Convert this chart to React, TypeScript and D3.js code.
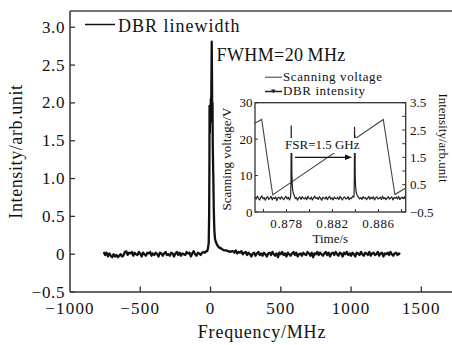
import React from "react";
import * as d3 from "d3";

// ---------- main spectrum data ----------
const mainXTicks = [-1000, -500, 0, 500, 1000, 1500];
const mainYTicks = [-0.5, 0, 0.5, 1.0, 1.5, 2.0, 2.5, 3.0];

const leftStartFreq = -760;
const freqStep = 10;
const leftNoise = [
  0.03, -0.01, 0.02, -0.03, 0.01, -0.02, -0.04, 0.0, -0.03, -0.01,
  -0.04, -0.02, 0.0, -0.03, -0.02, 0.03, 0.04, -0.01, 0.02, 0.01,
  0.03, -0.02, 0.02, 0.0, -0.01, 0.03, 0.01, -0.03, 0.02, 0.0,
  -0.02, 0.02, 0.01, 0.03, -0.02, 0.01, -0.01, 0.02, 0.0, -0.03,
  0.02, 0.01, -0.02, 0.01, 0.03, -0.01, 0.0, -0.02, 0.02, 0.01,
  -0.03, 0.01, 0.03, -0.01, 0.02, -0.02, 0.01, 0.0, -0.01, 0.03,
  0.01, 0.02, -0.03, 0.01, 0.04, 0.0, -0.02, 0.02, 0.01, -0.01,
  0.02, 0.03, 0.02, 0.04,
];

const peakFreq = [-24, -18, -13, -10, -8, -7, -5, -3, 0, 2, 4, 6, 8.5, 10.5, 12, 14, 16, 18, 20, 23, 27, 32, 38, 45, 51, 60, 70, 80, 95, 110, 125, 140, 150];
const peakVal = [0.04, 0.08, 0.15, 0.5, 1.2, 1.96, 1.6, 1.85, 1.75, 2.05, 1.85, 2.2, 2.81, 2.31, 1.8, 2.0, 1.42, 1.2, 1.0, 0.6, 0.32, 0.2, 0.16, 0.13, 0.11, 0.09, 0.08, 0.07, 0.05, 0.05, 0.04, 0.03, 0.04];

const rightStartFreq = 160;
const rightNoise = [
  0.04, 0.02, 0.05, 0.01, 0.03, 0.02, 0.04, 0.0, 0.02, 0.03,
  -0.01, 0.02, 0.0, -0.03, 0.01, 0.02, -0.02, 0.01, 0.03, -0.01,
  0.01, -0.02, 0.02, 0.0, -0.03, 0.01, 0.02, -0.01, 0.03, 0.0,
  -0.02, 0.01, -0.04, 0.02, 0.0, 0.03, -0.01, 0.01, -0.03, 0.02,
  0.0, -0.02, 0.01, 0.03, -0.01, 0.02, -0.03, 0.0, 0.01, -0.02,
  0.02, 0.0, -0.01, 0.03, 0.01, -0.02, 0.02, -0.04, 0.01, 0.0,
  0.03, -0.01, 0.02, 0.0, -0.02, 0.01, 0.03, -0.01, 0.02, -0.03,
  0.01, 0.02, -0.01, 0.03, 0.0, -0.02, 0.02, 0.01, -0.03, 0.02,
  0.0, 0.03, -0.01, 0.01, -0.02, 0.02, 0.0, -0.03, 0.02, 0.01,
  -0.01, 0.03, 0.0, -0.02, 0.02, 0.01, -0.01, 0.03, -0.02, 0.01,
  0.02, -0.01, 0.0, 0.03, -0.02, 0.01, 0.02, -0.03, 0.01, 0.0,
  0.02, -0.01, 0.03, 0.0, -0.02, 0.01, 0.02, -0.01, 0.01, 0.0,
];

// ---------- inset data ----------
const insetTimeTicks = [0.876, 0.878, 0.88, 0.882, 0.884, 0.886, 0.888];
const insetTimeLabels = [0.878, 0.882, 0.886];
const insetVoltTicks = [0, 10, 20, 30];
const insetIntTicks = [-0.5, 0, 0.5, 1.0, 1.5, 2.0, 2.5, 3.0, 3.5];
const insetIntLabels = [-0.5, 0.5, 1.5, 2.5, 3.5];

const voltTime = [0.87526, 0.87584, 0.8768, 0.88642, 0.88743, 0.88837];
const voltVal = [24.4, 25.4, 4.7, 25.4, 4.8, 6.6];

const insetStartTime = 0.87526;
const insetStep = 0.0001;
const insetNoise = [
  0.05, -0.03, 0.08, 0.0, -0.06, 0.04, 0.09, -0.02, 0.03, -0.07, 0.02, 0.06,
  -0.04, 0.01, 0.07, -0.05, 0.03, -0.01, 0.05, -0.08, 0.02, 0.04, -0.03, 0.06,
  0.0, -0.05, 0.03, 0.07, -0.02, 0.04, -0.06, 0.01, 0.05, -0.03, 0.08, -0.01,
  0.03, -0.07, 0.02, 0.05, -0.04, 0.06, 0.0, -0.02, 0.04, -0.05, 0.07, 0.01,
  -0.03, 0.05, -0.06, 0.02, 0.08, -0.01, 0.03, -0.04, 0.06, 0.0, -0.07, 0.04,
  0.01, -0.02, 0.06, -0.05, 0.03, 0.07, -0.03, 0.02, -0.06, 0.05, 0.0, -0.01,
  0.04, -0.04, 0.07, 0.01, -0.06, 0.03, 0.05, -0.02, 0.0, 0.06, -0.05, 0.02,
  -0.01, 0.08, -0.03, 0.04, -0.07, 0.02, 0.05, -0.02, 0.03, -0.04, 0.06, 0.0,
  0.03, -0.05, 0.01, 0.07, -0.03, 0.04, -0.01, 0.06, -0.06, 0.02, 0.05, -0.02,
  0.0, 0.04, -0.04, 0.08, -0.02, 0.03, -0.05, 0.01, 0.06, -0.03, 0.02, 0.05,
  -0.06, 0.03, 0.0, 0.05, -0.02, 0.07, -0.04, 0.02, 0.04, -0.01, 0.06, 0.01,
];
const peak1Time = [0.87836, 0.87839, 0.87841, 0.87843, 0.87845, 0.87847, 0.8785, 0.87854, 0.8786, 0.87868];
const peak1Val = [0.05, 0.6, 2.65, 1.2, 2.2, 0.9, 0.5, 0.3, 0.18, 0.1];
const peak2Time = [0.88387, 0.8839, 0.88392, 0.88394, 0.88396, 0.88398, 0.88401, 0.88405, 0.88411, 0.88419];
const peak2Val = [0.05, 0.7, 2.6, 1.4, 2.3, 0.8, 0.45, 0.25, 0.15, 0.08];

const FONT = "'Liberation Serif', 'DejaVu Serif', serif";

export default function App() {
  // main scales
  const x = d3.scaleLinear().domain([-1000, 1800]).range([70, 463.5]);
  const y = d3.scaleLinear().domain([-0.5, 3.215]).range([292, 11]);

  const mainPts: [number, number][] = [];
  leftNoise.forEach((v, i) => mainPts.push([leftStartFreq + i * freqStep, v]));
  peakFreq.forEach((f, i) => mainPts.push([f, peakVal[i]]));
  rightNoise.forEach((v, i) => mainPts.push([rightStartFreq + i * freqStep, v]));
  const mainLine = d3.line<[number, number]>().x((d) => x(d[0])).y((d) => y(d[1]));

  // inset scales
  const ix = d3.scaleLinear().domain([0.87526, 0.88837]).range([255, 405.7]);
  const iyV = d3.scaleLinear().domain([0, 30]).range([212, 102.7]);
  const iyI = d3.scaleLinear().domain([-0.5, 3.5]).range([212, 102.7]);

  const voltPts: [number, number][] = voltTime.map((t, i) => [t, voltVal[i]]);
  const voltLine = d3.line<[number, number]>().x((d) => ix(d[0])).y((d) => iyV(d[1]));

  let intPts: [number, number][] = [];
  insetNoise.forEach((v, i) => {
    const t = insetStartTime + i * insetStep;
    const inP1 = t > peak1Time[0] - 0.00002 && t < peak1Time[peak1Time.length - 1] + 0.00002;
    const inP2 = t > peak2Time[0] - 0.00002 && t < peak2Time[peak2Time.length - 1] + 0.00002;
    if (!inP1 && !inP2) intPts.push([t, v]);
  });
  peak1Time.forEach((t, i) => intPts.push([t, peak1Val[i]]));
  peak2Time.forEach((t, i) => intPts.push([t, peak2Val[i]]));
  intPts = intPts.sort((a, b) => a[0] - b[0]);
  const intLine = d3.line<[number, number]>().x((d) => ix(d[0])).y((d) => iyI(d[1]));

  const fmtMainY = (d: number) => (d === 0 ? "0" : d < 0 ? "\u2212" + Math.abs(d).toFixed(1) : d.toFixed(1));
  const fmtMainX = (d: number) => (d < 0 ? "\u2212" + Math.abs(d) : String(d));
  const fmtIntY = (d: number) => (d < 0 ? "\u2212" + Math.abs(d).toFixed(1) : d.toFixed(1));

  const axisColor = "#333";
  const ix0 = 255, ix1 = 405.7, iy0 = 102.7, iy1 = 212;

  return (
    <svg width={452} height={345} style={{ position: "absolute", left: 0, top: 0, background: "#fff" }} fontFamily={FONT}>
      <defs>
        <clipPath id="mainClip">
          <rect x={70} y={11} width={382} height={281} />
        </clipPath>
        <clipPath id="insetClip">
          <rect x={ix0} y={iy0} width={ix1 - ix0} height={iy1 - iy0} />
        </clipPath>
      </defs>
      <rect x={0} y={0} width={452} height={345} fill="#fff" />

      {/* main frame */}
      <line x1={70} y1={11} x2={452} y2={11} stroke="#444" strokeWidth={1.4} />
      <line x1={70} y1={11} x2={70} y2={292} stroke={axisColor} strokeWidth={1.5} />
      <line x1={70} y1={292} x2={452} y2={292} stroke={axisColor} strokeWidth={1.5} />

      {mainYTicks.map((d) => (
        <g key={"my" + d}>
          <line x1={70} x2={75} y1={y(d)} y2={y(d)} stroke={axisColor} strokeWidth={1.3} />
          <text x={65} y={y(d) + 5.5} fontSize={17} textAnchor="end" fill="#111" letterSpacing={0.6}>
            {fmtMainY(d)}
          </text>
        </g>
      ))}
      {mainXTicks.map((d) => (
        <g key={"mx" + d}>
          {d > -1000 && <line x1={x(d)} x2={x(d)} y1={292} y2={286.5} stroke={axisColor} strokeWidth={1.3} />}
          <text x={x(d)} y={314} fontSize={17} textAnchor="middle" fill="#111" letterSpacing={1.2}>
            {fmtMainX(d)}
          </text>
        </g>
      ))}

      <text x={262} y={338} fontSize={18} textAnchor="middle" fill="#111" letterSpacing={0.8}>
        Frequency/MHz
      </text>
      <text transform="translate(22,151.5) rotate(-90)" fontSize={18} textAnchor="middle" fill="#111" letterSpacing={0.6}>
        Intensity/arb.unit
      </text>

      {/* main data */}
      <path d={mainLine(mainPts) || ""} fill="none" stroke="#111" strokeWidth={2.3} strokeLinejoin="round" clipPath="url(#mainClip)" />

      {/* main legend */}
      <line x1={85} x2={115} y1={24.5} y2={24.5} stroke="#111" strokeWidth={1.5} />
      <text x={118} y={32} fontSize={18} fill="#111" letterSpacing={1}>
        DBR linewidth
      </text>
      <text x={216.5} y={61} fontSize={18} fill="#111" letterSpacing={0.4}>
        FWHM=20{"\u2009"}MHz
      </text>

      {/* inset */}
      <rect x={ix0} y={iy0} width={ix1 - ix0} height={iy1 - iy0} fill="#fff" />
      <g clipPath="url(#insetClip)">
        <path d={voltLine(voltPts) || ""} fill="none" stroke="#444" strokeWidth={1.1} />
        <path d={intLine(intPts) || ""} fill="none" stroke="#222" strokeWidth={1.2} strokeLinejoin="round" />
      </g>
      {/* FSR label box and arrow */}
      <rect x={284} y={138} width={79} height={15} fill="#fff" />
      <text x={285} y={149} fontSize={13} fill="#111">
        FSR=1.5 GHz
      </text>
      <line x1={295} x2={346} y1={157.3} y2={157.3} stroke="#111" strokeWidth={1.2} />
      <path d="M 352 157.3 L 345 154.6 L 345 160 Z" fill="#111" />

      <rect x={ix0} y={iy0} width={ix1 - ix0} height={iy1 - iy0} fill="none" stroke={axisColor} strokeWidth={1.3} />
      {insetVoltTicks.map((d) => (
        <g key={"iv" + d}>
          <line x1={ix0} x2={ix0 + 3} y1={iyV(d)} y2={iyV(d)} stroke={axisColor} strokeWidth={1} />
          <text x={252.5} y={iyV(d) + 4.5} fontSize={13} textAnchor="end" fill="#111">
            {d}
          </text>
        </g>
      ))}
      {insetIntTicks.map((d) => (
        <line key={"ii" + d} x1={ix1} x2={ix1 - 3.5} y1={iyI(d)} y2={iyI(d)} stroke={axisColor} strokeWidth={1} />
      ))}
      {insetIntLabels.map((d) => (
        <text key={"iil" + d} x={410} y={iyI(d) + 4.5} fontSize={13} fill="#111">
          {fmtIntY(d)}
        </text>
      ))}
      {insetTimeTicks.map((d) => (
        <line key={"it" + d} x1={ix(d)} x2={ix(d)} y1={iy1} y2={iy1 - 3} stroke={axisColor} strokeWidth={1} />
      ))}
      {insetTimeLabels.map((d) => (
        <text key={"itl" + d} x={ix(d)} y={228} fontSize={13} textAnchor="middle" fill="#111" letterSpacing={0.6}>
          {d.toFixed(3)}
        </text>
      ))}
      <text x={330.3} y={243} fontSize={13} textAnchor="middle" fill="#111">
        Time/s
      </text>
      <text transform="translate(231,159) rotate(-90)" fontSize={13} textAnchor="middle" fill="#111">
        Scanning voltage/V
      </text>
      <text transform="translate(438.5,138) rotate(90)" fontSize={13} textAnchor="middle" fill="#111">
        Intensity/arb.unit
      </text>

      {/* inset legend */}
      <line x1={265} x2={282} y1={77.3} y2={77.3} stroke="#777" strokeWidth={1.5} />
      <text x={283} y={81} fontSize={13} fill="#111" letterSpacing={0.6}>
        Scanning voltage
      </text>
      <line x1={265} x2={282} y1={91.5} y2={91.5} stroke="#222" strokeWidth={1.5} />
      <path d="M 271 89.5 L 275.5 89.5 L 273.25 93.5 Z" fill="#222" />
      <text x={283} y={95} fontSize={13} fill="#111" letterSpacing={0.6}>
        DBR intensity
      </text>
    </svg>
  );
}
